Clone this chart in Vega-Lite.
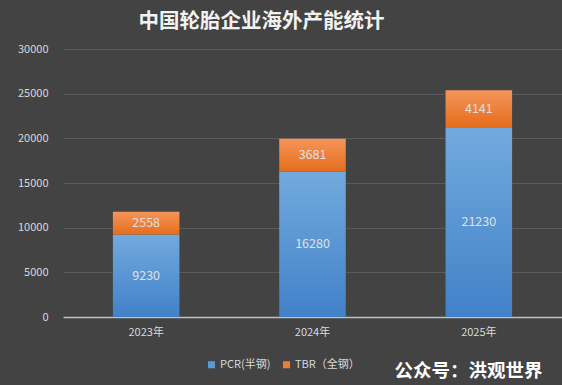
{
  "$schema": "https://vega.github.io/schema/vega-lite/v6.json",
  "width": 499,
  "height": 268,
  "autosize": "none",
  "padding": {"left": 63, "top": 49, "right": 0, "bottom": 68},
  "background": "#434343",
  "config": {
    "view": {"stroke": null},
    "font": "Noto Sans CJK SC"
  },
  "title": {
    "text": "中国轮胎企业海外产能统计",
    "fontSize": 20.5,
    "fontWeight": "bold",
    "color": "#f2f2f2",
    "anchor": "middle",
    "dx": -51,
    "offset": 11,
    "font": "Noto Sans CJK SC"
  },
  "data": {
    "values": [
      {"year": "2023年", "type": "PCR(半钢)", "value": 9230},
      {"year": "2023年", "type": "TBR（全钢）", "value": 2558},
      {"year": "2024年", "type": "PCR(半钢)", "value": 16280},
      {"year": "2024年", "type": "TBR（全钢）", "value": 3681},
      {"year": "2025年", "type": "PCR(半钢)", "value": 21230},
      {"year": "2025年", "type": "TBR（全钢）", "value": 4141}
    ]
  },
  "encoding": {
    "x": {
      "field": "year",
      "type": "nominal",
      "scale": {"paddingInner": 0.6, "paddingOuter": 0.3},
      "axis": {
        "labelAngle": 0,
        "labelColor": "#d9d9d9",
        "labelFontSize": 11,
        "labelPadding": 9,
        "ticks": false,
        "domainColor": "#bfbfbf",
        "domainWidth": 1.5,
        "title": "公众号：洪观世界",
        "titleColor": "#ffffff",
        "titleFontSize": 18.5,
        "titleFontWeight": "bold",
        "titleAlign": "right",
        "titleBaseline": "alphabetic",
        "titleX": 479,
        "titleY": 59
      }
    },
    "y": {
      "field": "value",
      "type": "quantitative",
      "stack": "zero",
      "scale": {"domain": [0, 30000]},
      "axis": {
        "title": null,
        "format": "d",
        "values": [0, 5000, 10000, 15000, 20000, 25000, 30000],
        "labelColor": "#d9d9d9",
        "labelFontSize": 11,
        "labelPadding": 15,
        "ticks": false,
        "domain": false,
        "gridColor": "#5a5a5a",
        "gridWidth": 1
      }
    },
    "order": {"field": "type", "sort": "ascending"}
  },
  "layer": [
    {
      "mark": {"type": "bar"},
      "encoding": {
        "color": {
          "field": "type",
          "type": "nominal",
          "scale": {"domain": ["PCR(半钢)", "TBR（全钢）"], "range": ["#5b9bd5", "#ed7d31"]},
          "condition": [
            {"test": "datum.type === 'PCR(半钢)'", "value": {"gradient": "linear", "x1": 0, "y1": 0, "x2": 0, "y2": 1, "stops": [{"offset": 0, "color": "#72aade"}, {"offset": 1, "color": "#4181c8"}]}},
            {"test": "datum.type === 'TBR（全钢）'", "value": {"gradient": "linear", "x1": 0, "y1": 0, "x2": 0, "y2": 1, "stops": [{"offset": 0, "color": "#f5955a"}, {"offset": 1, "color": "#e56d1c"}]}}
          ],
          "legend": {
            "orient": "none",
            "legendX": 143,
            "legendY": 310,
            "direction": "horizontal",
            "title": null,
            "symbolType": "square",
            "symbolSize": 50,
            "labelColor": "#d9d9d9",
            "labelFontSize": 11,
            "columnPadding": 10,
            "labelOffset": 3
          }
        }
      }
    },
    {
      "mark": {"type": "text", "color": "#e0e0e0", "fontSize": 12.5},
      "encoding": {
        "y": {"field": "value", "type": "quantitative", "stack": "zero", "bandPosition": 0.5},
        "detail": {"field": "type"},
        "text": {"field": "value", "type": "quantitative", "format": "d"}
      }
    }
  ]
}
